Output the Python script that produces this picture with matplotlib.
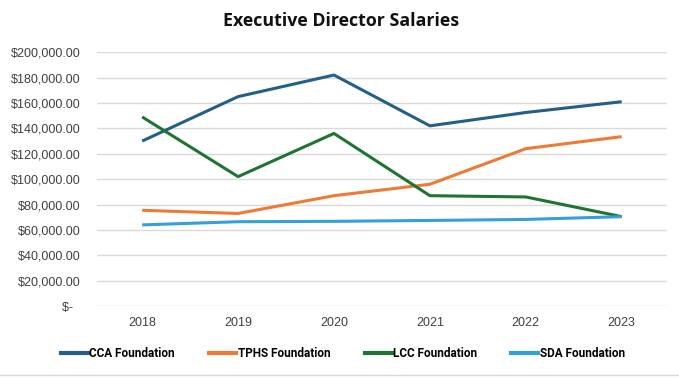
import matplotlib
matplotlib.use("Agg")
import matplotlib.pyplot as plt
from matplotlib.ticker import FuncFormatter, MultipleLocator
from matplotlib.lines import Line2D

years = ["2018", "2019", "2020", "2021", "2022", "2023"]
cca = [130000, 165000, 182000, 142000, 152500, 161000]
tphs = [75500, 73000, 87000, 96000, 124000, 133500]
lcc = [149000, 102000, 136000, 87000, 86000, 70500]
sda = [64000, 66500, 66800, 67500, 68300, 70500]

series = [
    ("CCA Foundation", cca, "#255E87"),
    ("TPHS Foundation", tphs, "#EE7A35"),
    ("LCC Foundation", lcc, "#1F7433"),
    ("SDA Foundation", sda, "#33A0DA"),
]

plt.rcParams['font.family'] = ['Liberation Sans', 'DejaVu Sans']

fig = plt.figure(figsize=(6.79, 3.78), dpi=100)
ax = fig.add_axes([0.143, 0.19, 0.839, 0.672])

x = list(range(len(years)))
for name, vals, col in series:
    ax.plot(x, vals, color=col, lw=2.2, label=name, solid_capstyle='butt')

ax.set_xlim(-0.47, len(years) - 0.53)
ax.set_ylim(0, 200000)
ax.yaxis.set_major_locator(MultipleLocator(20000))

def money(v, pos):
    # accounting style: zero shown as a dash
    if v == 0:
        return "$-  "
    return "${:,.2f}".format(v)

ax.yaxis.set_major_formatter(FuncFormatter(money))
ax.set_xticks(x)
ax.set_xticklabels(years)
ax.tick_params(axis='both', length=0, labelsize=9, colors='#404040', pad=8)
ax.tick_params(axis='y', pad=12)
ax.grid(axis='y', color='#d9d9d9', lw=1)
ax.set_axisbelow(True)
for s in ax.spines.values():
    s.set_visible(False)

fig.text(0.503, 0.945, "Executive Director Salaries", ha='center', va='center',
         fontsize=12.8, fontweight='bold', family=['Open Sans', 'DejaVu Sans'], color='#111111')

handles = [Line2D([0], [0], color=c, lw=3) for _, _, c in series]
fig.legend(handles, [n for n, _, _ in series], loc='center', bbox_to_anchor=(0.505, 0.065),
           ncol=4, frameon=False, handlelength=2.3, handletextpad=0.1, columnspacing=2.9,
           prop={'family': ['Roboto', 'DejaVu Sans'], 'weight': 'bold', 'size': 8.5})

fig.add_artist(Line2D([0, 1], [0.008, 0.008], color='#d9d9d9', lw=1, transform=fig.transFigure))

fig.savefig("out.png", dpi=100)
